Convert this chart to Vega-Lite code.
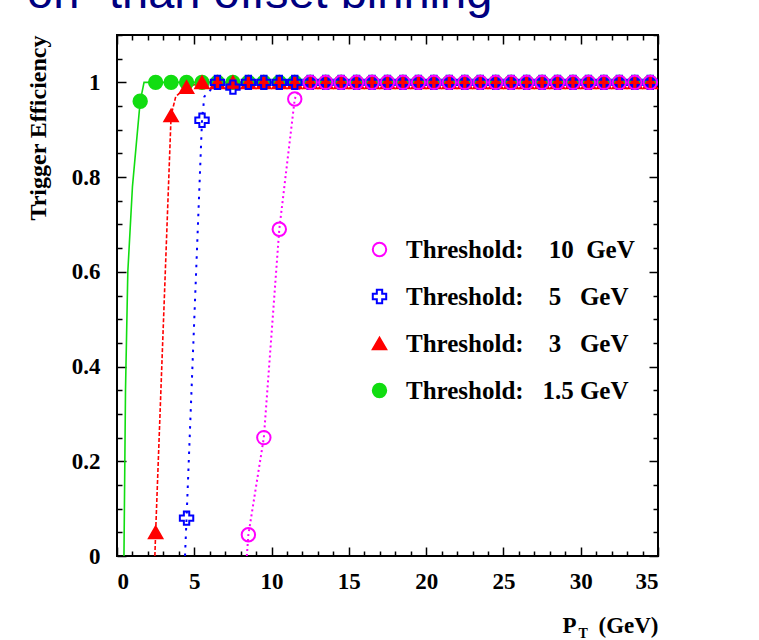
{
  "$schema": "https://vega.github.io/schema/vega-lite/v6.json",
  "width": 541,
  "height": 521,
  "autosize": {"type": "none"},
  "padding": {"left": 117, "top": 35, "right": 101, "bottom": 84},
  "background": "white",
  "title": {
    "text": "on\" than offset binning",
    "anchor": "start",
    "frame": "group",
    "orient": "top",
    "font": "Liberation Sans",
    "fontSize": 47,
    "fontWeight": "normal",
    "color": "#000080",
    "baseline": "alphabetic",
    "offset": 15,
    "dx": -90,
    "dy": 36
  },
  "config": {
    "view": {"stroke": "black", "strokeWidth": 2},
    "axis": {
      "domain": false,
      "grid": false,
      "minExtent": 0,
      "labelFont": "Liberation Serif",
      "labelFontWeight": "bold",
      "labelFontSize": 23,
      "labelColor": "black",
      "tickColor": "black",
      "tickWidth": 1.5,
      "titleFont": "Liberation Serif",
      "titleFontWeight": "bold",
      "titleColor": "black"
    },
    "legend": {
      "orient": "none", "legendX": 250, "legendY": 202, "title": null, "padding": 0,
      "labelFont": "Liberation Serif", "labelFontWeight": "bold", "labelFontSize": 25, "labelColor": "black", "labelLimit": 400,
      "symbolSize": 180, "symbolStrokeWidth": 2, "symbolOpacity": 1, "rowPadding": 21, "labelOffset": 14
    }
  },
  "datasets": {
    "pts": [
      {"s": "1.5", "x": 1.5, "y": 0.96}, {"s": "1.5", "x": 2.5, "y": 1}, {"s": "1.5", "x": 3.5, "y": 1}, {"s": "1.5", "x": 4.5, "y": 1},
      {"s": "1.5", "x": 5.5, "y": 1}, {"s": "1.5", "x": 6.5, "y": 1}, {"s": "1.5", "x": 7.5, "y": 1}, {"s": "1.5", "x": 8.5, "y": 1},
      {"s": "1.5", "x": 9.5, "y": 1}, {"s": "1.5", "x": 10.5, "y": 1}, {"s": "1.5", "x": 11.5, "y": 1}, {"s": "1.5", "x": 12.5, "y": 1},
      {"s": "1.5", "x": 13.5, "y": 1}, {"s": "1.5", "x": 14.5, "y": 1}, {"s": "1.5", "x": 15.5, "y": 1}, {"s": "1.5", "x": 16.5, "y": 1},
      {"s": "1.5", "x": 17.5, "y": 1}, {"s": "1.5", "x": 18.5, "y": 1}, {"s": "1.5", "x": 19.5, "y": 1}, {"s": "1.5", "x": 20.5, "y": 1},
      {"s": "1.5", "x": 21.5, "y": 1}, {"s": "1.5", "x": 22.5, "y": 1}, {"s": "1.5", "x": 23.5, "y": 1}, {"s": "1.5", "x": 24.5, "y": 1},
      {"s": "1.5", "x": 25.5, "y": 1}, {"s": "1.5", "x": 26.5, "y": 1}, {"s": "1.5", "x": 27.5, "y": 1}, {"s": "1.5", "x": 28.5, "y": 1},
      {"s": "1.5", "x": 29.5, "y": 1}, {"s": "1.5", "x": 30.5, "y": 1}, {"s": "1.5", "x": 31.5, "y": 1}, {"s": "1.5", "x": 32.5, "y": 1},
      {"s": "1.5", "x": 33.5, "y": 1}, {"s": "1.5", "x": 34.5, "y": 1},
      {"s": "3", "x": 2.5, "y": 0.05}, {"s": "3", "x": 3.5, "y": 0.93}, {"s": "3", "x": 4.5, "y": 0.99}, {"s": "3", "x": 5.5, "y": 1},
      {"s": "3", "x": 6.5, "y": 1}, {"s": "3", "x": 7.5, "y": 1}, {"s": "3", "x": 8.5, "y": 1}, {"s": "3", "x": 9.5, "y": 1},
      {"s": "3", "x": 10.5, "y": 1}, {"s": "3", "x": 11.5, "y": 1}, {"s": "3", "x": 12.5, "y": 1}, {"s": "3", "x": 13.5, "y": 1},
      {"s": "3", "x": 14.5, "y": 1}, {"s": "3", "x": 15.5, "y": 1}, {"s": "3", "x": 16.5, "y": 1}, {"s": "3", "x": 17.5, "y": 1},
      {"s": "3", "x": 18.5, "y": 1}, {"s": "3", "x": 19.5, "y": 1}, {"s": "3", "x": 20.5, "y": 1}, {"s": "3", "x": 21.5, "y": 1},
      {"s": "3", "x": 22.5, "y": 1}, {"s": "3", "x": 23.5, "y": 1}, {"s": "3", "x": 24.5, "y": 1}, {"s": "3", "x": 25.5, "y": 1},
      {"s": "3", "x": 26.5, "y": 1}, {"s": "3", "x": 27.5, "y": 1}, {"s": "3", "x": 28.5, "y": 1}, {"s": "3", "x": 29.5, "y": 1},
      {"s": "3", "x": 30.5, "y": 1}, {"s": "3", "x": 31.5, "y": 1}, {"s": "3", "x": 32.5, "y": 1}, {"s": "3", "x": 33.5, "y": 1},
      {"s": "3", "x": 34.5, "y": 1},
      {"s": "5", "x": 4.5, "y": 0.08}, {"s": "5", "x": 5.5, "y": 0.92}, {"s": "5", "x": 6.5, "y": 1}, {"s": "5", "x": 7.5, "y": 0.99},
      {"s": "5", "x": 8.5, "y": 1}, {"s": "5", "x": 9.5, "y": 1}, {"s": "5", "x": 10.5, "y": 1}, {"s": "5", "x": 11.5, "y": 1},
      {"s": "5", "x": 12.5, "y": 1}, {"s": "5", "x": 13.5, "y": 1}, {"s": "5", "x": 14.5, "y": 1}, {"s": "5", "x": 15.5, "y": 1},
      {"s": "5", "x": 16.5, "y": 1}, {"s": "5", "x": 17.5, "y": 1}, {"s": "5", "x": 18.5, "y": 1}, {"s": "5", "x": 19.5, "y": 1},
      {"s": "5", "x": 20.5, "y": 1}, {"s": "5", "x": 21.5, "y": 1}, {"s": "5", "x": 22.5, "y": 1}, {"s": "5", "x": 23.5, "y": 1},
      {"s": "5", "x": 24.5, "y": 1}, {"s": "5", "x": 25.5, "y": 1}, {"s": "5", "x": 26.5, "y": 1}, {"s": "5", "x": 27.5, "y": 1},
      {"s": "5", "x": 28.5, "y": 1}, {"s": "5", "x": 29.5, "y": 1}, {"s": "5", "x": 30.5, "y": 1}, {"s": "5", "x": 31.5, "y": 1},
      {"s": "5", "x": 32.5, "y": 1}, {"s": "5", "x": 33.5, "y": 1}, {"s": "5", "x": 34.5, "y": 1},
      {"s": "10", "x": 8.5, "y": 0.045}, {"s": "10", "x": 9.5, "y": 0.25}, {"s": "10", "x": 10.5, "y": 0.69}, {"s": "10", "x": 11.5, "y": 0.965},
      {"s": "10", "x": 12.5, "y": 1}, {"s": "10", "x": 13.5, "y": 1}, {"s": "10", "x": 14.5, "y": 1}, {"s": "10", "x": 15.5, "y": 1},
      {"s": "10", "x": 16.5, "y": 1}, {"s": "10", "x": 17.5, "y": 1}, {"s": "10", "x": 18.5, "y": 1}, {"s": "10", "x": 19.5, "y": 1},
      {"s": "10", "x": 20.5, "y": 1}, {"s": "10", "x": 21.5, "y": 1}, {"s": "10", "x": 22.5, "y": 1}, {"s": "10", "x": 23.5, "y": 1},
      {"s": "10", "x": 24.5, "y": 1}, {"s": "10", "x": 25.5, "y": 1}, {"s": "10", "x": 26.5, "y": 1}, {"s": "10", "x": 27.5, "y": 1},
      {"s": "10", "x": 28.5, "y": 1}, {"s": "10", "x": 29.5, "y": 1}, {"s": "10", "x": 30.5, "y": 1}, {"s": "10", "x": 31.5, "y": 1},
      {"s": "10", "x": 32.5, "y": 1}, {"s": "10", "x": 33.5, "y": 1}, {"s": "10", "x": 34.5, "y": 1}
    ],
    "curves": [
      {"s": "1.5", "x": 0.45, "y": 0}, {"s": "1.5", "x": 0.55, "y": 0.35}, {"s": "1.5", "x": 0.7, "y": 0.6}, {"s": "1.5", "x": 1.0, "y": 0.78},
      {"s": "1.5", "x": 1.25, "y": 0.87}, {"s": "1.5", "x": 1.5, "y": 0.96}, {"s": "1.5", "x": 1.75, "y": 1}, {"s": "1.5", "x": 35, "y": 1},
      {"s": "3", "x": 2.45, "y": 0}, {"s": "3", "x": 2.5, "y": 0.05}, {"s": "3", "x": 3.5, "y": 0.93}, {"s": "3", "x": 3.8, "y": 0.97},
      {"s": "3", "x": 4.5, "y": 0.99}, {"s": "3", "x": 5.5, "y": 1}, {"s": "3", "x": 35, "y": 1},
      {"s": "5", "x": 4.4, "y": 0}, {"s": "5", "x": 4.5, "y": 0.08}, {"s": "5", "x": 5.5, "y": 0.92}, {"s": "5", "x": 5.65, "y": 0.97},
      {"s": "5", "x": 6.5, "y": 1}, {"s": "5", "x": 7.5, "y": 0.99}, {"s": "5", "x": 8.5, "y": 1}, {"s": "5", "x": 35, "y": 1},
      {"s": "10", "x": 8.4, "y": 0}, {"s": "10", "x": 8.5, "y": 0.045}, {"s": "10", "x": 9.5, "y": 0.25}, {"s": "10", "x": 10.5, "y": 0.69},
      {"s": "10", "x": 11.5, "y": 0.965}, {"s": "10", "x": 12, "y": 1}, {"s": "10", "x": 35, "y": 1}
    ]
  },
  "layer": [
    {
      "layer": [
        {
          "data": {"name": "curves"},
          "transform": [{"filter": "datum.s == '1.5'"}],
          "mark": {"type": "line", "color": "#11dd11", "strokeWidth": 1.6},
          "encoding": {
            "x": {
              "field": "x", "type": "quantitative", "scale": {"domain": [0, 35], "nice": false, "zero": false},
              "axis": {
                "values": [0, 5, 10, 15, 20, 25, 30, 35], "ticks": false, "labelPadding": 14, "labelExpr": "format(datum.value, 'd')",
                "title": "(GeV)", "titleFontSize": 23, "titleX": 541, "titleY": 76, "titleAlign": "right", "titleBaseline": "alphabetic", "titleAnchor": "end"
              }
            },
            "y": {
              "field": "y", "type": "quantitative", "scale": {"domain": [0, 1.1], "nice": false, "zero": false},
              "axis": {
                "values": [0, 0.2, 0.4, 0.6, 0.8, 1], "ticks": false, "labelPadding": 17,
                "labelExpr": "datum.value == 0 ? '0' : datum.value == 1 ? '1' : format(datum.value, '.1f')",
                "title": "Trigger Efficiency", "titleFontSize": 24, "titleFontWeight": "bold", "titleAngle": -90,
                "titleX": -79, "titleY": 0, "titleAlign": "right", "titleBaseline": "middle"
              }
            }
          }
        },
        {
          "data": {"name": "curves"},
          "transform": [{"filter": "datum.s == '3'"}],
          "mark": {"type": "line", "color": "#ff0000", "strokeWidth": 1.6, "strokeDash": [4, 2]},
          "encoding": {
            "x": {"field": "x", "type": "quantitative", "scale": {"domain": [0, 35], "nice": false, "zero": false}},
            "y": {"field": "y", "type": "quantitative", "scale": {"domain": [0, 1.1], "nice": false, "zero": false}}
          }
        },
        {
          "data": {"name": "curves"},
          "transform": [{"filter": "datum.s == '5'"}],
          "mark": {"type": "line", "color": "#0000ff", "strokeWidth": 2, "strokeDash": [2.5, 6]},
          "encoding": {
            "x": {"field": "x", "type": "quantitative", "scale": {"domain": [0, 35], "nice": false, "zero": false}},
            "y": {"field": "y", "type": "quantitative", "scale": {"domain": [0, 1.1], "nice": false, "zero": false}}
          }
        },
        {
          "data": {"name": "curves"},
          "transform": [{"filter": "datum.s == '10'"}],
          "mark": {"type": "line", "color": "#ff00ff", "strokeWidth": 2, "strokeDash": [2, 3]},
          "encoding": {
            "x": {"field": "x", "type": "quantitative", "scale": {"domain": [0, 35], "nice": false, "zero": false}},
            "y": {"field": "y", "type": "quantitative", "scale": {"domain": [0, 1.1], "nice": false, "zero": false}}
          }
        },
        {
          "data": {"name": "pts"},
          "mark": {"type": "point", "opacity": 1, "strokeWidth": 2, "size": 180},
          "encoding": {
            "x": {"field": "x", "type": "quantitative", "scale": {"domain": [0, 35], "nice": false, "zero": false}},
            "y": {"field": "y", "type": "quantitative", "scale": {"domain": [0, 1.1], "nice": false, "zero": false}},
            "shape": {
              "field": "s", "type": "nominal",
              "scale": {"domain": ["10", "5", "3", "1.5"], "range": ["circle", "cross", "triangle-up", "circle"]},
              "legend": {
                "labelExpr": "datum.label == '10' ? 'Threshold:\u00a0\u00a0\u00a0\u00a010\u00a0\u00a0GeV' : datum.label == '1.5' ? 'Threshold:\u00a0\u00a0\u00a01.5\u00a0GeV' : 'Threshold:\u00a0\u00a0\u00a0\u00a0' + datum.label + '\u00a0\u00a0\u00a0GeV'"
              }
            },
            "fill": {
              "field": "s", "type": "nominal",
              "scale": {"domain": ["10", "5", "3", "1.5"], "range": ["transparent", "transparent", "#ff0000", "#11dd11"]},
              "legend": {
                "labelExpr": "datum.label == '10' ? 'Threshold:\u00a0\u00a0\u00a0\u00a010\u00a0\u00a0GeV' : datum.label == '1.5' ? 'Threshold:\u00a0\u00a0\u00a01.5\u00a0GeV' : 'Threshold:\u00a0\u00a0\u00a0\u00a0' + datum.label + '\u00a0\u00a0\u00a0GeV'"
              }
            },
            "stroke": {
              "field": "s", "type": "nominal",
              "scale": {"domain": ["10", "5", "3", "1.5"], "range": ["#ff00ff", "#0000ff", "#ff0000", "#11dd11"]},
              "legend": {
                "labelExpr": "datum.label == '10' ? 'Threshold:\u00a0\u00a0\u00a0\u00a010\u00a0\u00a0GeV' : datum.label == '1.5' ? 'Threshold:\u00a0\u00a0\u00a01.5\u00a0GeV' : 'Threshold:\u00a0\u00a0\u00a0\u00a0' + datum.label + '\u00a0\u00a0\u00a0GeV'"
              }
            }
          }
        }
      ]
    },
    {
      "data": {"name": "pts"},
      "mark": {"type": "point", "opacity": 0},
      "encoding": {
        "x": {
          "field": "x", "type": "quantitative", "scale": {"domain": [0, 35], "nice": false, "zero": false},
          "axis": {
            "orient": "bottom", "labels": false,
            "values": [0,1,2,3,4,5,6,7,8,9,10,11,12,13,14,15,16,17,18,19,20,21,22,23,24,25,26,27,28,29,30,31,32,33,34,35],
            "tickSize": {"condition": {"test": "datum.value % 5 == 0", "value": -9}, "value": -5},
            "title": "P", "titleFontSize": 23, "titleX": 445, "titleY": 76, "titleAlign": "left", "titleBaseline": "alphabetic"
          }
        },
        "y": {
          "field": "y", "type": "quantitative", "scale": {"domain": [0, 1.1], "nice": false, "zero": false},
          "axis": {
            "orient": "left", "labels": false,
            "values": [0,0.05,0.1,0.15,0.2,0.25,0.3,0.35,0.4,0.45,0.5,0.55,0.6,0.65,0.7,0.75,0.8,0.85,0.9,0.95,1,1.05,1.1],
            "tickSize": {"condition": {"test": "round(datum.value * 100) % 20 == 0", "value": -9}, "value": -5},
            "title": null
          }
        }
      }
    },
    {
      "data": {"name": "pts"},
      "mark": {"type": "point", "opacity": 0},
      "encoding": {
        "x": {
          "field": "x", "type": "quantitative", "scale": {"domain": [0, 35], "nice": false, "zero": false},
          "axis": {
            "orient": "top", "labels": false,
            "values": [0,1,2,3,4,5,6,7,8,9,10,11,12,13,14,15,16,17,18,19,20,21,22,23,24,25,26,27,28,29,30,31,32,33,34,35],
            "tickSize": {"condition": {"test": "datum.value % 5 == 0", "value": -9}, "value": -5},
            "title": null
          }
        },
        "y": {
          "field": "y", "type": "quantitative", "scale": {"domain": [0, 1.1], "nice": false, "zero": false},
          "axis": {
            "orient": "right", "labels": false,
            "values": [0,0.05,0.1,0.15,0.2,0.25,0.3,0.35,0.4,0.45,0.5,0.55,0.6,0.65,0.7,0.75,0.8,0.85,0.9,0.95,1,1.05,1.1],
            "tickSize": {"condition": {"test": "round(datum.value * 100) % 20 == 0", "value": -9}, "value": -5},
            "title": "T", "titleFontSize": 14, "titleAngle": 0, "titleX": -80, "titleY": 602, "titleAlign": "left", "titleBaseline": "alphabetic"
          }
        }
      }
    }
  ],
  "resolve": {"axis": {"x": "independent", "y": "independent"}}
}
